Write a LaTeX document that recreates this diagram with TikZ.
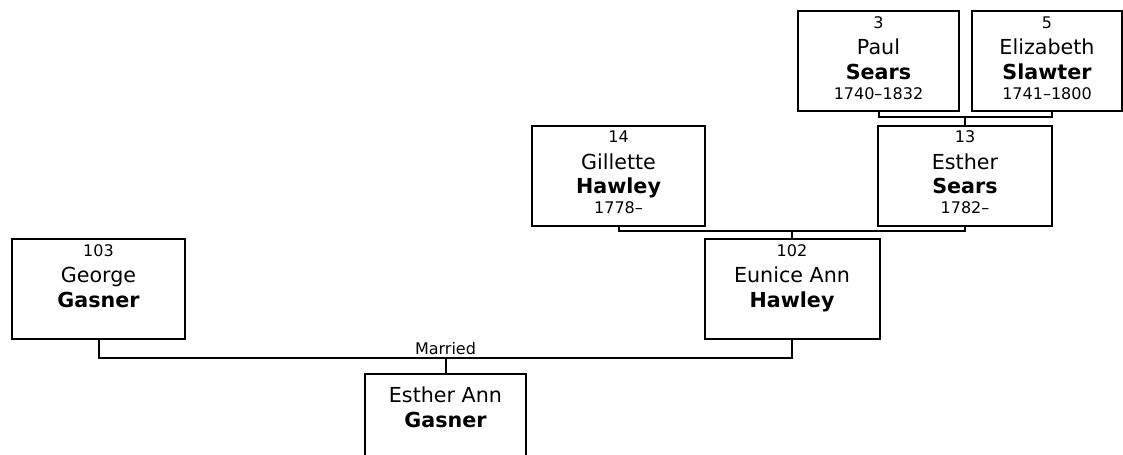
\documentclass[tikz,border=0pt]{standalone}
\usepackage{fontspec}
\setmainfont{DejaVu Sans}
\newcommand{\smallfont}{\fontsize{12}{14}\selectfont}
\newcommand{\namefont}{\fontsize{15.5}{19}\selectfont}

\tikzset{
  personbox/.style={draw, black, line width=1.5pt, minimum height=75pt, inner sep=0pt},
  numtext/.style={anchor=base, inner sep=0pt, font=\smallfont},
  nametext/.style={anchor=base, inner sep=0pt, font=\namefont},
  link/.style={black, line width=1.5pt}
}

% box with number, first name and surname
\newcommand{\person}[6]{
  \node[personbox, minimum width=#3, anchor=north] (#1) at #2 {};
  \node[numtext] (#1-num) at ([yshift=-13.7pt]#1.north) {#4};
  \node[nametext] (#1-first) at ([yshift=-33.4pt]#1.north) {#5};
  \node[nametext] (#1-last) at ([yshift=-52.1pt]#1.north) {\textbf{#6}};
}
\newcommand{\lifespan}[2]{
  \node[numtext] (#1-dates) at ([yshift=-67pt]#1.north) {#2};
}

\begin{document}
\begin{tikzpicture}[x=0.75pt, y=-0.75pt]
    \useasboundingbox (0,0) rectangle (1123,454);

    % grandparents
    \person{paul}{(878.5,10)}{120.75pt}{3}{Paul}{Sears}
    \lifespan{paul}{1740–1832}
    \person{eliz}{(1047,10)}{112.5pt}{5}{Elizabeth}{Slawter}
    \lifespan{eliz}{1741–1800}

    % parents of 102
    \person{gillette}{(618.5,124.5)}{129.75pt}{14}{Gillette}{Hawley}
    \lifespan{gillette}{1778–}
    \person{esther}{(965,124.5)}{130.5pt}{13}{Esther}{Sears}
    \lifespan{esther}{1782–}

    % parents
    \person{george}{(98.5,238)}{129.75pt}{103}{George}{Gasner}
    \person{eunice}{(792,238)}{131.25pt}{102}{Eunice Ann}{Hawley}

    % child
    \node[personbox, minimum width=120.75pt, anchor=north] (estherann) at (445.5,373) {};
    \node[nametext] (estherann-first) at ([yshift=-22.3pt]estherann.north) {Esther Ann};
    \node[nametext] (estherann-last) at ([yshift=-40.5pt]estherann.north) {\textbf{Gasner}};

    % connectors
    \coordinate (eliz-link) at ([xshift=3.75pt]eliz.south);
    \coordinate (bus-13) at (965,117);
    \coordinate (bus-102) at (792,231);
    \coordinate (bus-ea) at (445.5,358);

    \draw[link] (paul.south) |- (bus-13) -| (eliz-link);
    \draw[link] (bus-13) -- (esther.north);
    \draw[link] (gillette.south) |- (bus-102) -| (esther.south);
    \draw[link] (bus-102) -- (eunice.north);
    \draw[link] (george.south) |- (bus-ea) -| (eunice.south);
    \draw[link] (bus-ea) -- (estherann.north);
    \node[above, inner sep=2pt, font=\smallfont] (married) at (bus-ea) {Married};
\end{tikzpicture}
\end{document}
